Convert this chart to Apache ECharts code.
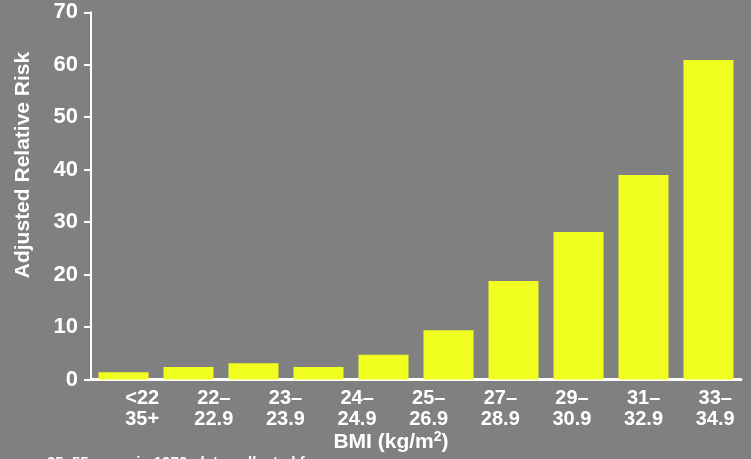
<!DOCTYPE html>
<html>
<head>
<meta charset="utf-8">
<script src="https://cdn.jsdelivr.net/npm/echarts@6/dist/echarts.min.js"></script>
<style>
html,body{margin:0;padding:0;background:#808080;}
#chart{width:751px;height:459px;}
</style>
</head>
<body>
<div id="chart"></div>
<script>
// BMI categories (one per bar)
const categories = ['<22','22–22.9','23–23.9','24–24.9','25–26.9','27–28.9','29–30.9','31–32.9','33–34.9','35+'];
// Adjusted relative risk values
const riskValues = [1.4, 2.4, 3.1, 2.4, 4.7, 9.4, 18.8, 28.1, 39.0, 60.9];
// Tick labels as they appear under the axis (9 labels, shifted)
const tickLabels = ['<22\n35+','22–\n22.9','23–\n23.9','24–\n24.9','25–\n26.9','27–\n28.9','29–\n30.9','31–\n32.9','33–\n34.9'];
const yTitle = 'Adjusted Relative Risk';
const xTitleMain = 'BMI (kg/m';
const xTitleSup = '2';
const xTitleEnd = ')';
const footnote = '25–55 years in 1976, data collected from';

const FONT = '"Liberation Sans", Arial, sans-serif';
const chart = echarts.init(document.getElementById('chart'));
chart.setOption({
  backgroundColor: '#808080',
  animation: false,
  grid: [
    {left: 91, width: 650, top: 12.3, height: 367.2},
    {left: 106.4, width: 659, top: 12.3, height: 367.2}
  ],
  xAxis: [
    {
      type: 'category', gridIndex: 0, data: categories,
      axisLine: {show: true, lineStyle: {color: '#ffffff', width: 3}},
      axisTick: {show: false},
      axisLabel: {show: false}
    },
    {
      type: 'category', gridIndex: 1, data: tickLabels,
      axisLine: {show: false}, axisTick: {show: false},
      axisLabel: {
        show: true, interval: 0, margin: 8.5, color: '#ffffff',
        fontFamily: FONT, fontWeight: 'bold', fontSize: 20, lineHeight: 21, align: 'center'
      }
    }
  ],
  yAxis: [
    {
      type: 'value', gridIndex: 0, min: 0, max: 70, interval: 10,
      splitLine: {show: false},
      axisLine: {show: true, lineStyle: {color: '#ffffff', width: 2}},
      axisTick: {show: true, length: 7, lineStyle: {color: '#ffffff', width: 2}},
      axisLabel: {
        color: '#ffffff', fontFamily: FONT, fontWeight: 'bold', fontSize: 22, margin: 13,
        padding: [4, 0, 0, 0]
      }
    },
    {
      type: 'value', gridIndex: 1, min: 0, max: 70, show: false
    }
  ],
  series: [{
    type: 'bar', xAxisIndex: 0, yAxisIndex: 0,
    data: riskValues, barWidth: 50,
    itemStyle: {color: '#f0ff20'}
  }],
  graphic: [
    {
      type: 'text', x: 23, y: 165, rotation: Math.PI / 2,
      style: {
        text: yTitle, fill: '#ffffff', font: 'bold 21px ' + FONT,
        align: 'center', verticalAlign: 'middle'
      }
    },
    {
      type: 'text', x: 391, y: 442,
      style: {
        text: '{m|' + xTitleMain + '}{s|' + xTitleSup + '}{m|' + xTitleEnd + '}',
        align: 'center', verticalAlign: 'middle',
        rich: {
          m: {fill: '#ffffff', fontFamily: FONT, fontWeight: 'bold', fontSize: 21, lineHeight: 22},
          s: {fill: '#ffffff', fontFamily: FONT, fontWeight: 'bold', fontSize: 14, lineHeight: 22, padding: [0, 0, 9, 0]}
        }
      }
    },
    {
      type: 'text', x: 47, y: 455.5,
      style: {
        text: footnote, fill: '#ffffff', font: 'bold 15px ' + FONT,
        align: 'left', verticalAlign: 'top'
      }
    }
  ]
});
</script>
</body>
</html>
